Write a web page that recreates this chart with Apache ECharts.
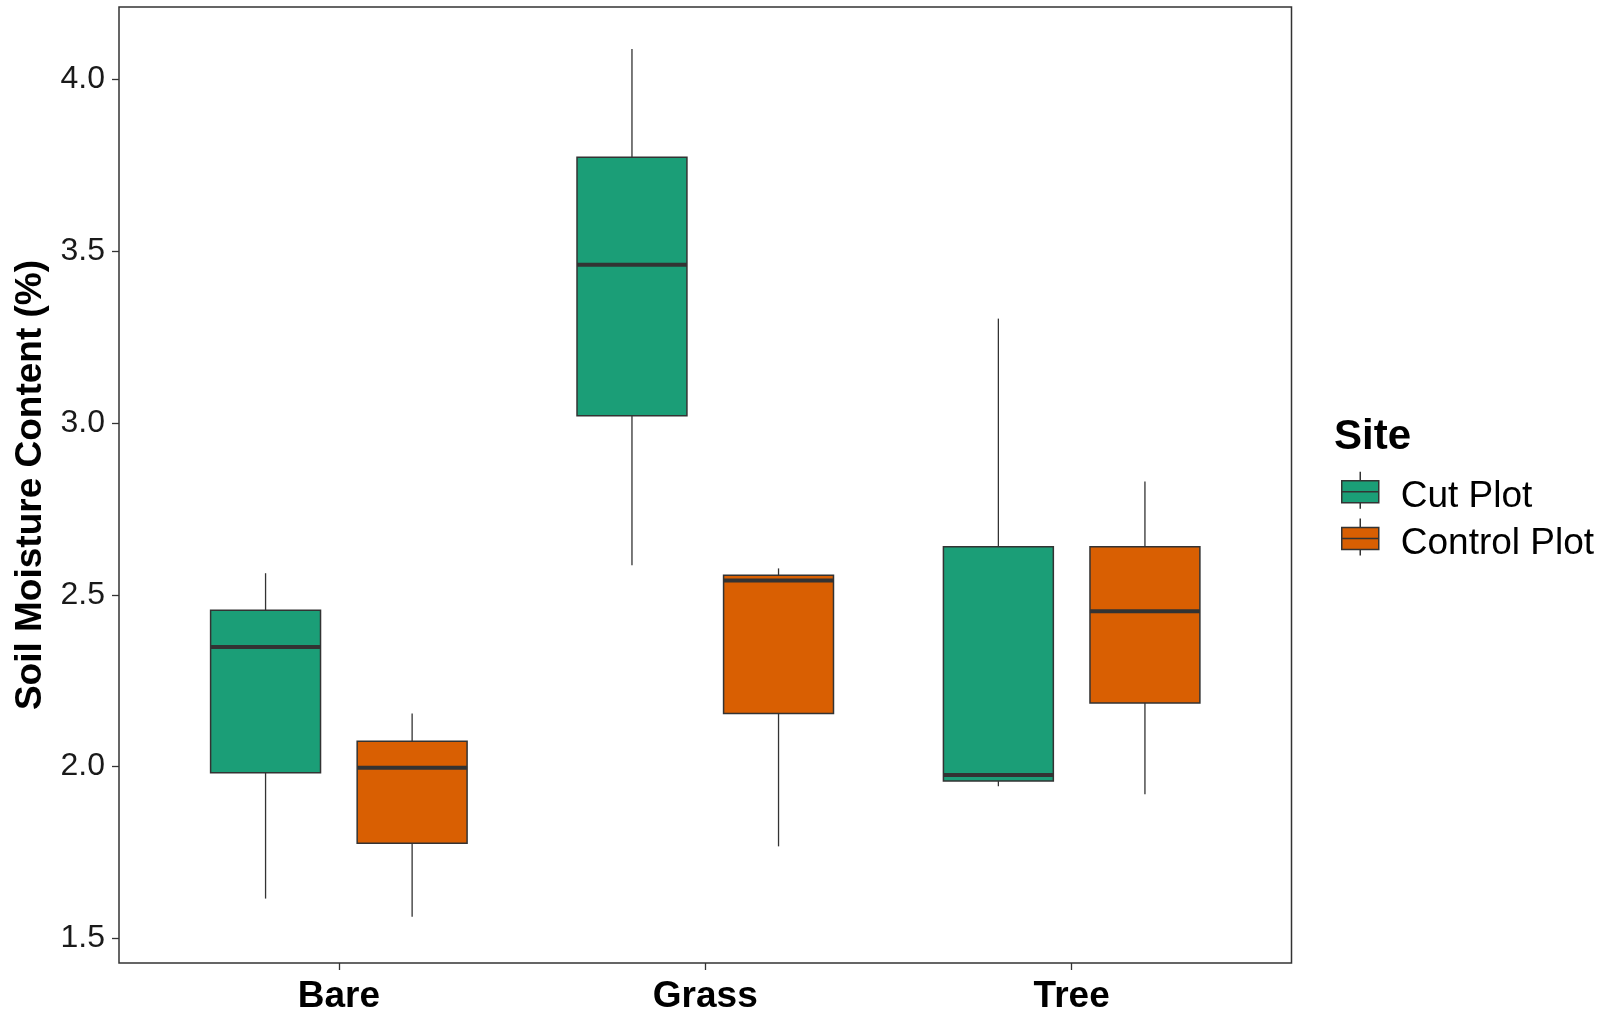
<!DOCTYPE html>
<html>
<head>
<meta charset="utf-8">
<script src="https://cdn.jsdelivr.net/npm/echarts@6/dist/echarts.min.js"></script>
<style>
html,body{margin:0;padding:0;background:#fff;}
#chart{width:1606px;height:1015px;}
</style>
</head>
<body>
<div id="chart"></div>
<script>
// ---- data ----
const categories = ['Bare', 'Grass', 'Tree'];
const seriesNames = ['Cut Plot', 'Control Plot'];
// [min, Q1, median, Q3, max] for each category
const cutPlot = [
  [1.616, 1.982, 2.348, 2.455, 2.563],
  [2.586, 3.021, 3.461, 3.774, 4.089],
  [1.943, 1.958, 1.976, 2.640, 3.304]
];
const controlPlot = [
  [1.563, 1.777, 1.997, 2.074, 2.155],
  [1.768, 2.155, 2.542, 2.557, 2.577],
  [1.920, 2.185, 2.452, 2.640, 2.830]
];
const yTicks = [1.5, 2.0, 2.5, 3.0, 3.5, 4.0];
const xTicks = [1, 2, 3];

const colors = ['#1B9E77', '#D95F02'];
const FONT = "'Liberation Sans', Arial, sans-serif";

function toData(arr) {
  return arr.map((v, i) => [i + 1].concat(v));
}

function makeRender(offset, fill) {
  return function (params, api) {
    const x = api.value(0) + offset;
    const halfW = api.size([0.3, 0])[0] / 2;
    const pMin = api.coord([x, api.value(1)]);
    const pQ1 = api.coord([x, api.value(2)]);
    const pMed = api.coord([x, api.value(3)]);
    const pQ3 = api.coord([x, api.value(4)]);
    const pMax = api.coord([x, api.value(5)]);
    const cx = pMed[0];
    const lineStyle = { stroke: '#333333', lineWidth: 1.3 };
    return {
      type: 'group',
      children: [
        { type: 'line', shape: { x1: cx, y1: pQ3[1], x2: cx, y2: pMax[1] }, style: lineStyle },
        { type: 'line', shape: { x1: cx, y1: pQ1[1], x2: cx, y2: pMin[1] }, style: lineStyle },
        { type: 'rect', shape: { x: cx - halfW, y: pQ3[1], width: halfW * 2, height: pQ1[1] - pQ3[1] },
          style: { fill: fill, stroke: '#333333', lineWidth: 1.5 } },
        { type: 'line', shape: { x1: cx - halfW, y1: pMed[1], x2: cx + halfW, y2: pMed[1] },
          style: { stroke: '#333333', lineWidth: 4 } }
      ]
    };
  };
}

const boxIcon = 'path://M18.5,0 L18.5,9 M0,9 L37,9 L37,31 L0,31 Z M0,20 L37,20 M18.5,31 L18.5,37';

const chart = echarts.init(document.getElementById('chart'), null, { renderer: 'canvas' });
chart.setOption({
  animation: false,
  backgroundColor: '#ffffff',
  grid: {
    left: 119, right: 314.5, top: 7, bottom: 50,
    show: true, borderColor: '#333333', borderWidth: 1.5, backgroundColor: 'transparent'
  },
  xAxis: {
    type: 'value', min: 0.4, max: 3.6,
    splitLine: { show: false },
    axisLine: { show: false },
    axisTick: { show: true, length: 7, customValues: xTicks, lineStyle: { color: '#333333', width: 1.3 } },
    axisLabel: {
      customValues: xTicks, margin: 15,
      formatter: v => categories[Math.round(v) - 1] || '',
      fontFamily: FONT, fontSize: 37, fontWeight: 'bold', color: '#000000'
    }
  },
  yAxis: {
    type: 'value', min: 1.4285, max: 4.211,
    name: 'Soil Moisture Content (%)', nameLocation: 'middle', nameGap: 62, nameRotate: 90,
    nameTextStyle: { fontFamily: FONT, fontSize: 37, fontWeight: 'bold', color: '#000000' },
    splitLine: { show: false },
    axisLine: { show: false },
    axisTick: { show: true, length: 7, customValues: yTicks, lineStyle: { color: '#333333', width: 1.3 } },
    axisLabel: {
      customValues: yTicks, margin: 14,
      formatter: v => v.toFixed(1),
      fontFamily: FONT, fontSize: 32, color: '#1a1a1a'
    }
  },
  legend: {
    orient: 'vertical', left: 1341, top: 471, padding: 0,
    itemWidth: 37, itemHeight: 37, itemGap: 2,
    icon: boxIcon,
    itemStyle: { borderColor: '#333333', borderWidth: 1.5 },
    formatter: name => '{t|' + name + '}',
    textStyle: {
      fontFamily: FONT, fontSize: 37, color: '#000000',
      rich: { t: { fontFamily: FONT, fontSize: 37, color: '#000000', padding: [14, 0, 0, 17] } }
    },
    data: seriesNames
  },
  graphic: [{
    type: 'text', left: 1334, top: 416,
    style: { text: 'Site', font: "bold 42px 'Liberation Sans', Arial, sans-serif", fill: '#000000' }
  }],
  series: [
    { name: seriesNames[0], type: 'custom', renderItem: makeRender(-0.2, colors[0]),
      itemStyle: { color: colors[0] }, encode: { x: 0, y: [1, 2, 3, 4, 5] }, data: toData(cutPlot) },
    { name: seriesNames[1], type: 'custom', renderItem: makeRender(0.2, colors[1]),
      itemStyle: { color: colors[1] }, encode: { x: 0, y: [1, 2, 3, 4, 5] }, data: toData(controlPlot) }
  ]
});
</script>
</body>
</html>
